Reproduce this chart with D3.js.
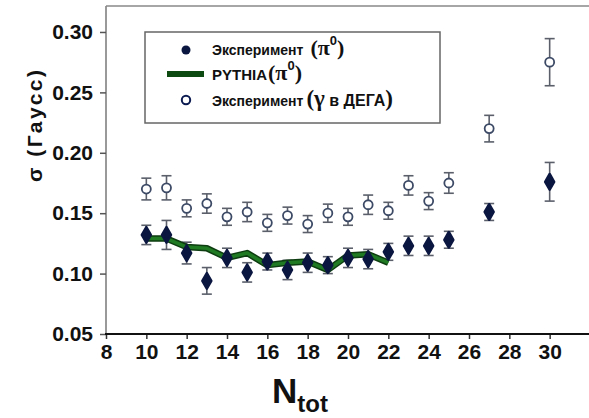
<!DOCTYPE html>
<html>
<head>
<meta charset="utf-8">
<script src="https://cdn.jsdelivr.net/npm/d3@7"></script>
<style>
  html, body { margin: 0; padding: 0; background: #fff; }
  svg { display: block; }
  text { font-family: "Liberation Sans", Arial, sans-serif; font-weight: bold; fill: #111; }
</style>
</head>
<body>
<svg id="chart" width="589" height="418"></svg>
<script>
// N_tot values for the measured points
const nExp = [10, 11, 12, 13, 14, 15, 16, 17, 18, 19, 20, 21, 22, 23, 24, 25, 27, 30];

// Experiment (pi0): sigma and its error
const sigmaPi0 = [0.132, 0.132, 0.117, 0.094, 0.113, 0.101, 0.110, 0.103, 0.109, 0.107, 0.113, 0.112, 0.118, 0.123, 0.123, 0.128, 0.151, 0.176];
const errPi0   = [0.008, 0.012, 0.009, 0.011, 0.008, 0.008, 0.007, 0.008, 0.008, 0.007, 0.008, 0.008, 0.007, 0.008, 0.008, 0.007, 0.007, 0.016];

// Experiment (gamma in DEGA): sigma and its error
const sigmaGamma = [0.170, 0.171, 0.154, 0.158, 0.147, 0.151, 0.142, 0.148, 0.141, 0.150, 0.147, 0.157, 0.152, 0.173, 0.160, 0.175, 0.220, 0.275];
const errGamma   = [0.009, 0.010, 0.007, 0.008, 0.007, 0.008, 0.007, 0.007, 0.007, 0.0075, 0.007, 0.008, 0.007, 0.008, 0.007, 0.0085, 0.011, 0.0195];

// PYTHIA (pi0) simulation curve
const nPythia = [10, 11, 12, 13, 14, 15, 16, 17, 18, 19, 20, 21, 22];
const sigmaPythia = [0.129, 0.129, 0.122, 0.121, 0.113, 0.117, 0.107, 0.109, 0.110, 0.103, 0.115, 0.116, 0.109];

// Axis ticks
const xTicks = [8, 10, 12, 14, 16, 18, 20, 22, 24, 26, 28, 30];
const yTicks = [0.05, 0.10, 0.15, 0.20, 0.25, 0.30];

const svg = d3.select("#chart");
const plotLeft = 106, plotRight = 590, plotTop = 6, plotBottom = 334;

const x = d3.scaleLinear().domain([8, 32]).range([plotLeft, plotRight]);
const y = d3.scaleLinear().domain([0.05, 0.3215]).range([plotBottom, plotTop]);

// frame: light left and top borders
svg.append("line").attr("x1", plotLeft).attr("x2", plotLeft).attr("y1", plotTop).attr("y2", plotBottom)
  .attr("stroke", "#777").attr("stroke-width", 1.5);
svg.append("line").attr("x1", plotLeft).attr("x2", 589).attr("y1", plotTop).attr("y2", plotTop)
  .attr("stroke", "#888").attr("stroke-width", 1.5);

// y axis
const yAxis = svg.append("g").attr("transform", `translate(${plotLeft},0)`)
  .call(d3.axisLeft(y).tickValues(yTicks).tickFormat(d3.format(".2f")).tickSize(6).tickPadding(7));
yAxis.select(".domain").remove();
yAxis.selectAll(".tick line").attr("stroke", "#555").attr("stroke-width", 1.5);
yAxis.selectAll(".tick text").style("font-size", "21px").style("font-family", "'Liberation Sans', Arial, sans-serif")
  .style("font-weight", "bold").attr("fill", "#111");

// x axis
const xAxis = svg.append("g").attr("transform", `translate(0,${plotBottom})`)
  .call(d3.axisBottom(x).tickValues(xTicks).tickFormat(d3.format("d")).tickSize(5).tickPadding(5));
xAxis.select(".domain").remove();
xAxis.selectAll(".tick line").attr("stroke", "#333").attr("stroke-width", 1.5);
xAxis.selectAll(".tick text").style("font-size", "21px").style("font-family", "'Liberation Sans', Arial, sans-serif")
  .style("font-weight", "bold").attr("fill", "#111");
svg.append("line").attr("x1", plotLeft - 1).attr("x2", 589).attr("y1", plotBottom).attr("y2", plotBottom)
  .attr("stroke", "#111").attr("stroke-width", 2.2);

// axis titles
const xt = svg.append("text").attr("x", 272).attr("y", 403);
xt.append("tspan").text("N").style("font-size", "35px");
xt.append("tspan").text("tot").attr("dy", 9).style("font-size", "24px");

svg.append("text")
  .attr("transform", "translate(42,126) rotate(-90)")
  .attr("text-anchor", "middle")
  .style("font-size", "21px")
  .attr("textLength", 112).attr("lengthAdjust", "spacing")
  .text("σ (Гаусс)");

// error bar helper
function errorBars(xs, vals, errs, color) {
  const g = svg.append("g").attr("stroke", color).attr("stroke-width", 1.6).attr("fill", "none");
  xs.forEach((n, i) => {
    const cx = x(n), y1 = y(vals[i] + errs[i]), y2 = y(vals[i] - errs[i]);
    g.append("line").attr("x1", cx).attr("x2", cx).attr("y1", y1).attr("y2", y2);
    g.append("line").attr("x1", cx - 5).attr("x2", cx + 5).attr("y1", y1).attr("y2", y1);
    g.append("line").attr("x1", cx - 5).attr("x2", cx + 5).attr("y1", y2).attr("y2", y2);
  });
}

// gamma (open markers)
errorBars(nExp, sigmaGamma, errGamma, "#5a5f6a");
svg.append("g").selectAll("circle").data(nExp).join("circle")
  .attr("cx", d => x(d)).attr("cy", (d, i) => y(sigmaGamma[i])).attr("r", 4.5)
  .attr("fill", "#fff").attr("stroke", "#3d4a66").attr("stroke-width", 1.8);

// pi0 experiment error bars
errorBars(nExp, sigmaPi0, errPi0, "#5a5f6a");

// PYTHIA curve
const line = d3.line().x((d, i) => x(nPythia[i])).y(d => y(d));
svg.append("path").datum(sigmaPythia).attr("d", line)
  .attr("fill", "none").attr("stroke", "#0d3d10").attr("stroke-width", 6.5).attr("stroke-linejoin", "round");
svg.append("path").datum(sigmaPythia).attr("d", line)
  .attr("fill", "none").attr("stroke", "#1f7a23").attr("stroke-width", 3.5).attr("stroke-linejoin", "round");

// pi0 experiment markers: rounded diamonds
const diamond = d3.symbol().type(d3.symbolDiamond).size(70);
svg.append("g").selectAll("path").data(nExp).join("path")
  .attr("d", diamond)
  .attr("transform", (d, i) => `translate(${x(d)},${y(sigmaPi0[i])})`)
  .attr("fill", "#0b1640").attr("stroke", "#0b1640").attr("stroke-width", 2.5).attr("stroke-linejoin", "round");

// legend
const lg = svg.append("g");
lg.append("rect").attr("x", 145).attr("y", 32).attr("width", 295).attr("height", 91)
  .attr("fill", "#fff").attr("stroke", "#666").attr("stroke-width", 1.5);
lg.append("circle").attr("cx", 186).attr("cy", 50).attr("r", 4.5).attr("fill", "#0b1640");
lg.append("line").attr("x1", 167).attr("x2", 204).attr("y1", 74).attr("y2", 74)
  .attr("stroke", "#0d4a12").attr("stroke-width", 6);
lg.append("circle").attr("cx", 186).attr("cy", 100).attr("r", 4.2).attr("fill", "#fff")
  .attr("stroke", "#0b1a50").attr("stroke-width", 2);

const serif = "'Liberation Serif', 'DejaVu Serif', serif";
function legendRow(yy, parts) {
  const t = lg.append("text").attr("x", 212).attr("y", yy);
  parts.forEach(p => {
    const s = t.append("tspan").text(p.t).style("font-size", p.size + "px");
    if (p.serif) s.style("font-family", serif);
    if (p.dx) s.attr("dx", p.dx);
    if (p.dy) s.attr("dy", p.dy);
  });
}
legendRow(55, [
  { t: "Эксперимент", size: 14 },
  { t: "(π", size: 22, serif: true, dx: 7 },
  { t: "0", size: 13, dy: -10 },
  { t: ")", size: 22, serif: true, dy: 10 }
]);
legendRow(80, [
  { t: "PYTHIA", size: 15 },
  { t: "(π", size: 22, serif: true, dx: 1 },
  { t: "0", size: 13, dy: -10 },
  { t: ")", size: 22, serif: true, dy: 10 }
]);
legendRow(106, [
  { t: "Эксперимент", size: 14 },
  { t: "(", size: 23, serif: true, dx: 3 },
  { t: "γ", size: 23, serif: true },
  { t: " в ДЕГА", size: 16 },
  { t: ")", size: 23, serif: true }
]);
</script>
</body>
</html>
